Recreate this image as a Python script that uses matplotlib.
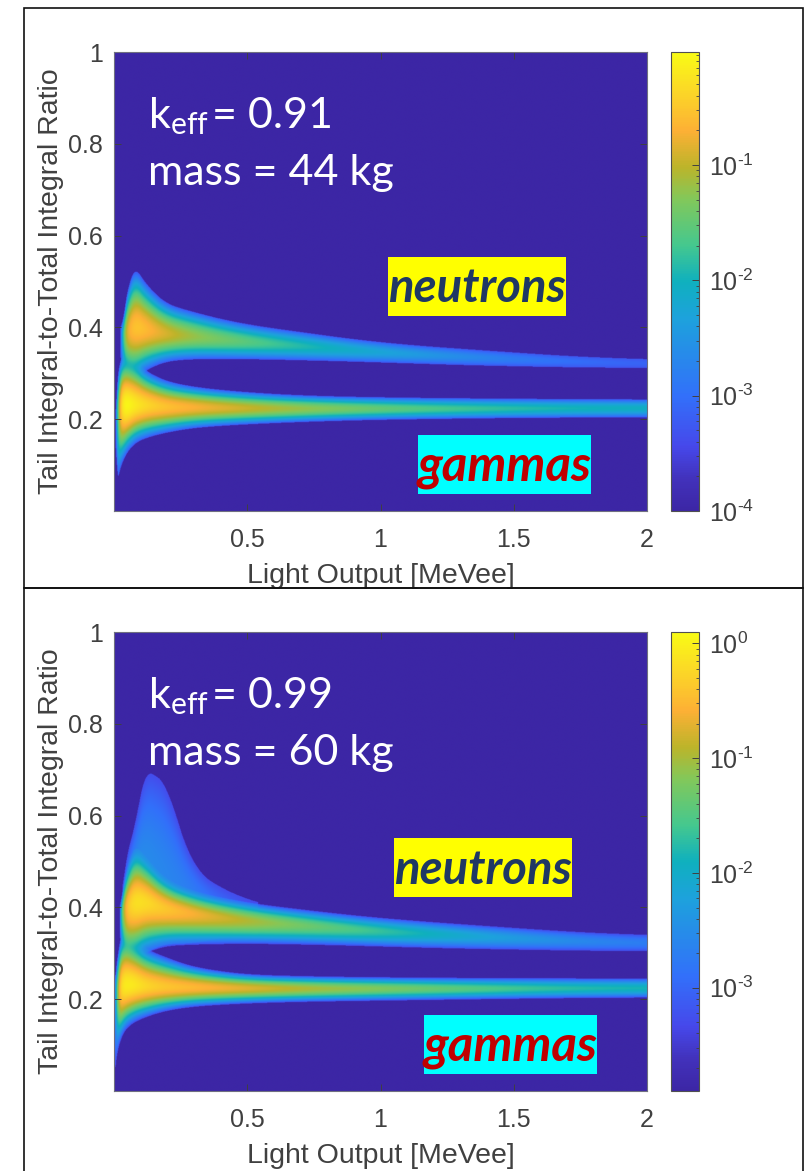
import numpy as np
import matplotlib
matplotlib.use("Agg")
import matplotlib.pyplot as plt
from matplotlib.colors import LinearSegmentedColormap, LogNorm
from matplotlib.patches import Rectangle

plt.rcParams["font.family"] = ["Liberation Sans", "DejaVu Sans"]
plt.rcParams["mathtext.fontset"] = "custom"
plt.rcParams["mathtext.rm"] = "Liberation Sans"

W, H = 805, 1171
GREY = "#404040"

# parula-like colours
cmap_pos = [0, 0.07, 0.14, 0.25, 0.42, 0.5, 0.58, 0.68, 0.75, 0.83, 0.92, 1]
cmap_col = ["#3c26a5", "#4232bc", "#4648eb", "#3270fa", "#1da2dc", "#0fb0be", "#45c88e", "#82c85a",
            "#bcb42a", "#fdb035", "#fbd926", "#f9fb15"]

floor_log = -3.3

# light output knots [MeVee], the band values below are read at these
light = [0.005, 0.015, 0.025, 0.035, 0.05, 0.08, 0.12, 0.2, 0.3, 0.5, 0.75, 1.0, 1.25, 1.5, 1.75, 2.0]

# top panel, keff 0.91
g1_centre = [0.22, 0.22, 0.228, 0.23, 0.23, 0.23, 0.23, 0.226, 0.225, 0.223, 0.222, 0.222, 0.222, 0.222, 0.223, 0.223]
g1_upper = [0.2, 0.30, 0.33, 0.34, 0.34, 0.33, 0.305, 0.282, 0.27, 0.258, 0.25, 0.247, 0.245, 0.244, 0.243, 0.242]
g1_lower = [0.15, 0.07, 0.095, 0.11, 0.127, 0.147, 0.158, 0.17, 0.18, 0.188, 0.194, 0.198, 0.2, 0.202, 0.203, 0.203]
g1_peak = [-3.4, -1.5, -0.5, -0.15, -0.05, -0.2, -0.35, -0.55, -0.7, -0.95, -1.25, -1.5, -1.7, -1.85, -2.0, -2.1]
n1_centre = [0.38, 0.38, 0.38, 0.385, 0.39, 0.40, 0.395, 0.385, 0.38, 0.368, 0.357, 0.345, 0.337, 0.33, 0.324, 0.319]
n1_upper = [0.39, 0.39, 0.40, 0.42, 0.48, 0.53, 0.495, 0.45, 0.433, 0.406, 0.386, 0.366, 0.355, 0.345, 0.335, 0.327]
n1_lower = [0.37, 0.37, 0.33, 0.30, 0.29, 0.285, 0.305, 0.325, 0.33, 0.33, 0.327, 0.323, 0.318, 0.314, 0.312, 0.31]
n1_peak = [-5, -5, -3.0, -1.6, -0.8, -0.5, -0.6, -0.9, -1.2, -1.55, -1.95, -2.25, -2.55, -2.85, -3.05, -3.2]

# bottom panel, keff 0.99
g2_centre = [0.22, 0.22, 0.225, 0.228, 0.23, 0.23, 0.228, 0.226, 0.225, 0.223, 0.222, 0.222, 0.222, 0.222, 0.223, 0.223]
g2_upper = [0.25, 0.3, 0.335, 0.345, 0.345, 0.33, 0.31, 0.29, 0.27, 0.253, 0.249, 0.247, 0.246, 0.245, 0.245, 0.244]
g2_lower = [0.05, 0.09, 0.11, 0.125, 0.137, 0.15, 0.16, 0.174, 0.183, 0.19, 0.194, 0.196, 0.198, 0.2, 0.202, 0.203]
g2_peak = [-2.5, -1.0, -0.3, -0.1, -0.05, -0.1, -0.25, -0.4, -0.5, -0.72, -1.0, -1.2, -1.4, -1.6, -1.8, -1.9]
n2_centre = [0.38, 0.38, 0.385, 0.395, 0.40, 0.41, 0.41, 0.395, 0.385, 0.37, 0.358, 0.347, 0.34, 0.332, 0.325, 0.32]
n2_upper = [0.39, 0.39, 0.41, 0.45, 0.49, 0.535, 0.51, 0.46, 0.435, 0.41, 0.392, 0.376, 0.365, 0.355, 0.345, 0.336]
n2_lower = [0.37, 0.37, 0.32, 0.285, 0.275, 0.28, 0.3, 0.315, 0.318, 0.32, 0.318, 0.314, 0.31, 0.307, 0.305, 0.303]
n2_peak = [-5, -5, -2.0, -1.0, -0.4, -0.15, -0.2, -0.4, -0.6, -0.95, -1.35, -1.65, -2.0, -2.3, -2.6, -2.8]
# faint plume above the neutron band, bottom panel only
p2_centre = [0.4, 0.4, 0.4, 0.42, 0.44, 0.47, 0.48, 0.46, 0.42, 0.38, 0.36, 0.35, 0.34, 0.33, 0.32, 0.32]
p2_upper = [0.41, 0.41, 0.42, 0.46, 0.515, 0.58, 0.70, 0.67, 0.48, 0.415, 0.385, 0.37, 0.36, 0.35, 0.34, 0.33]
p2_lower = [0.39, 0.39, 0.36, 0.33, 0.3, 0.3, 0.3, 0.32, 0.32, 0.34, 0.34, 0.34, 0.33, 0.32, 0.31, 0.31]
p2_peak = [-5, -5, -4, -3.0, -2.6, -2.5, -2.5, -2.6, -2.7, -3.1, -4, -5, -5, -5, -5, -5]

x_ticks = [0.5, 1, 1.5, 2]
x_labels = ["0.5", "1", "1.5", "2"]
y_ticks = [0.2, 0.4, 0.6, 0.8, 1]
y_labels = ["0.2", "0.4", "0.6", "0.8", "1"]


def knots_to_columns(xs, knots):
    # read the knots on a log axis and round off the corners between them
    u = np.linspace(np.log(light[0]), np.log(light[-1]), 600)
    v = np.interp(u, np.log(light), knots)
    pad = 20
    kernel = np.ones(2 * pad + 1) / (2 * pad + 1)
    v = np.convolve(np.pad(v, pad, mode="edge"), kernel, mode="valid")
    return np.interp(np.log(np.maximum(xs, 1e-4)), u, v)


def band(xs, ys, centre, upper, lower, peak):
    c = knots_to_columns(xs, centre)
    up = np.maximum(knots_to_columns(xs, upper) - c, 1e-3)
    lo = np.maximum(c - knots_to_columns(xs, lower), 1e-3)
    p = knots_to_columns(xs, peak)
    d = ys[:, None] - c
    f = np.abs(np.where(d > 0, d / up, d / lo))
    z = 10 ** (floor_log + (p - floor_log) * (1 - np.minimum(f, 1) ** 1.85))
    return np.where((f < 1) & (p > floor_log), z, 0.0)


def px_rect(x0, y0, x1, y1):
    return [x0 / W, 1 - y1 / H, (x1 - x0) / W, (y1 - y0) / H]


def draw_panel(fig, top, bands, vmin, vmax, cb_ticks, cb_labels, keff, mass, n_box, g_box):
    bottom = top + 459
    ax = fig.add_axes(px_rect(114, top, 647, bottom))
    cax = fig.add_axes(px_rect(671, top, 699, bottom))

    xs = np.linspace(0, 2, 1000)
    ys = np.linspace(0, 1, 900)
    z = sum(band(xs, ys, *b) for b in bands)
    z = np.where(z < 10**floor_log, vmin, z)

    cmap = LinearSegmentedColormap.from_list("parula", list(zip(cmap_pos, cmap_col)))
    im = ax.imshow(z, origin="lower", extent=[0, 2, 0, 1], aspect="auto", cmap=cmap,
                   norm=LogNorm(vmin=vmin, vmax=vmax), interpolation="bilinear")

    ax.set_xticks(x_ticks, x_labels)
    ax.set_yticks(y_ticks, y_labels)
    ax.tick_params(direction="in", top=True, right=True, length=5, width=0.7, color=GREY,
                   labelsize=18, labelcolor=GREY)
    ax.tick_params(axis="x", pad=12)
    ax.tick_params(axis="y", pad=8)
    for s in ax.spines.values():
        s.set_color("#707080")
        s.set_linewidth(0.8)
    ax.set_xlabel("Light Output [MeVee]", fontsize=20.5, color=GREY, labelpad=8)
    ax.set_ylabel("Tail Integral-to-Total Integral Ratio", fontsize=20.5, color=GREY, labelpad=3)

    cb = fig.colorbar(im, cax=cax)
    cb.set_ticks(cb_ticks, labels=cb_labels)
    cax.tick_params(which="major", direction="in", length=5, width=0.7, color=GREY, labelsize=18,
                    labelcolor=GREY, pad=7)
    cax.tick_params(which="minor", direction="in", length=2.5, width=0.6, color=GREY)
    cb.outline.set_edgecolor("#505050")
    cb.outline.set_linewidth(0.8)

    lato = ["Lato", "DejaVu Sans"]
    fig.text(148 / W, 1 - (top + 76) / H, "k$_{\\mathregular{eff}}$", color="white",
             fontsize=31, family=lato, va="baseline")
    fig.text(212 / W, 1 - (top + 76) / H, "= " + keff, color="white",
             fontsize=31, family=lato, va="baseline")
    fig.text(148 / W, 1 - (top + 133) / H, "mass = " + mass, color="white",
             fontsize=31, family=lato, va="baseline")

    for (x0, y0, x1, y1), label, bg, fg, size in [(n_box, "neutrons", "#ffff00", "#1f3864", 34),
                                                  (g_box, "gammas", "#00ffff", "#c00000", 35.5)]:
        r = px_rect(x0, y0, x1, y1)
        fig.add_artist(Rectangle((r[0], r[1]), r[2], r[3], transform=fig.transFigure,
                                 facecolor=bg, edgecolor="none", zorder=5))
        fig.text((x0 + x1) / 2 / W, 1 - (y0 + 45.5) / H, label, color=fg, fontsize=size,
                 family=lato, style="italic", weight="bold", ha="center", va="baseline", zorder=6)


fig = plt.figure(figsize=(W / 100, H / 100), dpi=100, facecolor="white")

draw_panel(fig, 52,
           [(g1_centre, g1_upper, g1_lower, g1_peak), (n1_centre, n1_upper, n1_lower, n1_peak)],
           1e-4, 10**-0.02, [1e-4, 1e-3, 1e-2, 1e-1],
           ["10$^{\\text{-}4}$", "10$^{\\text{-}3}$", "10$^{\\text{-}2}$", "10$^{\\text{-}1}$"],
           "0.91", "44 kg", (388, 257, 566, 316), (418, 435, 591, 494))
draw_panel(fig, 632,
           [(g2_centre, g2_upper, g2_lower, g2_peak), (n2_centre, n2_upper, n2_lower, n2_peak),
            (p2_centre, p2_upper, p2_lower, p2_peak)],
           10**-3.9, 10**0.1, [1e-3, 1e-2, 1e-1, 1],
           ["10$^{\\text{-}3}$", "10$^{\\text{-}2}$", "10$^{\\text{-}1}$", "10$^{0}$"],
           "0.99", "60 kg", (394, 838, 572, 897), (424, 1015, 597, 1074))

# outer frames around the two pasted panels
for x0, y0, x1, y1 in [(24, 8, 803, 588), (24, 588, 803, 1175)]:
    r = px_rect(x0, y0, x1, y1)
    fig.add_artist(Rectangle((r[0], r[1]), r[2], r[3], transform=fig.transFigure,
                             facecolor="none", edgecolor="#101010", linewidth=1.2, zorder=7))

fig.savefig("out.png", dpi=100)
